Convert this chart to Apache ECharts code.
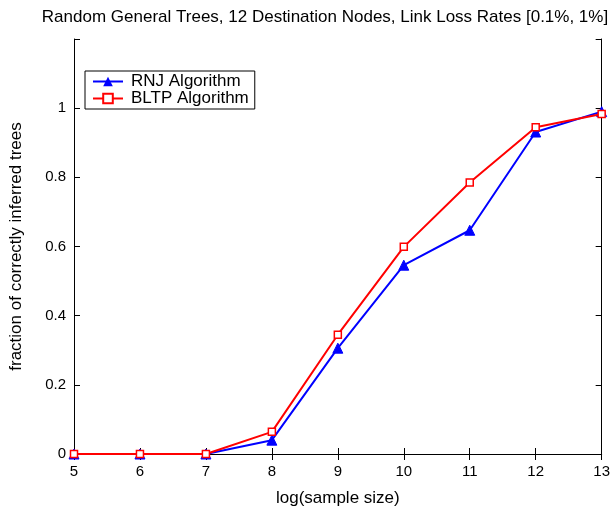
<!DOCTYPE html>
<html>
<head>
<meta charset="utf-8">
<script src="https://cdn.jsdelivr.net/npm/echarts@6/dist/echarts.min.js"></script>
<style>
  html, body { margin: 0; padding: 0; background: #fff; }
  #chart { width: 613px; height: 512px; }
</style>
</head>
<body>
<div id="chart"></div>
<script>
var sampleSizes = [5, 6, 7, 8, 9, 10, 11, 12, 13];
var rnjValues = [0, 0, 0, 0.04, 0.306, 0.546, 0.647, 0.931, 0.99];
var bltpValues = [0, 0, 0, 0.064, 0.345, 0.599, 0.785, 0.945, 0.983];

function pairs(xs, ys) {
  return xs.map(function (x, i) { return [x, ys[i]]; });
}

var font = "Liberation Sans, Arial, sans-serif";
var chart = echarts.init(document.getElementById("chart"));

var option = {
  animation: false,
  textStyle: { fontFamily: font },
  title: {
    text: "Random General Trees, 12 Destination Nodes, Link Loss Rates [0.1%, 1%]",
    left: 320,
    top: 4,
    textAlign: "center",
    textStyle: { fontSize: 17, fontWeight: "normal", color: "#000", fontFamily: font }
  },
  legend: {
    left: 85,
    top: 71,
    orient: "vertical",
    backgroundColor: "#fff",
    borderColor: "#000",
    borderWidth: 1,
    borderRadius: 0,
    padding: [2, 6, 2, 7],
    itemGap: 0,
    itemWidth: 30,
    itemHeight: 12,
    textStyle: { fontSize: 17, color: "#000", fontFamily: font, padding: [0, 0, 0, 3] },
    data: ["RNJ Algorithm", "BLTP Algorithm"]
  },
  grid: { left: 73, right: 9, top: 39, bottom: 57 },
  xAxis: [
    {
      type: "value",
      min: 5,
      max: 13,
      interval: 1,
      name: "log(sample size)",
      nameLocation: "middle",
      nameGap: 36,
      nameTextStyle: { fontSize: 17, color: "#000" },
      axisLine: { lineStyle: { color: "#000", width: 1 } },
      axisTick: { inside: true, length: 6, lineStyle: { color: "#000" } },
      axisLabel: { fontSize: 15, color: "#000", margin: 10 },
      splitLine: { show: false }
    },
    {
      type: "value",
      position: "top",
      min: 5,
      max: 13,
      interval: 1,
      axisLine: { lineStyle: { color: "#000", width: 1 } },
      axisTick: { inside: true, length: 6, lineStyle: { color: "#000" } },
      axisLabel: { show: false },
      splitLine: { show: false }
    }
  ],
  yAxis: [
    {
      type: "value",
      min: 0,
      max: 1.2,
      interval: 0.2,
      name: "fraction of correctly inferred trees",
      nameLocation: "middle",
      nameGap: 49,
      nameTextStyle: { fontSize: 17, color: "#000" },
      axisLine: { show: true, lineStyle: { color: "#000", width: 1 } },
      axisTick: { inside: true, length: 6, lineStyle: { color: "#000" } },
      axisLabel: {
        fontSize: 15,
        color: "#000",
        margin: 8,
        formatter: function (v) { return v > 1.05 ? "" : String(Math.round(v * 10) / 10); }
      },
      splitLine: { show: false }
    },
    {
      type: "value",
      position: "right",
      min: 0,
      max: 1.2,
      interval: 0.2,
      axisLine: { show: true, lineStyle: { color: "#000", width: 1 } },
      axisTick: { inside: true, length: 6, lineStyle: { color: "#000" } },
      axisLabel: { show: false },
      splitLine: { show: false }
    }
  ],
  series: [
    {
      name: "RNJ Algorithm",
      type: "line",
      data: pairs(sampleSizes, rnjValues),
      symbol: "triangle",
      symbolSize: 10,
      lineStyle: { color: "#0000ff", width: 2 },
      itemStyle: { color: "#0000ff", borderColor: "#0000ff" },
      z: 3
    },
    {
      name: "BLTP Algorithm",
      type: "line",
      data: pairs(sampleSizes, bltpValues),
      symbol: "rect",
      symbolSize: 7,
      showAllSymbol: true,
      lineStyle: { color: "#ff0000", width: 2 },
      itemStyle: { color: "#fff", borderColor: "#ff0000", borderWidth: 1.5 },
      z: 4
    }
  ]
};

chart.setOption(option);
</script>
</body>
</html>
